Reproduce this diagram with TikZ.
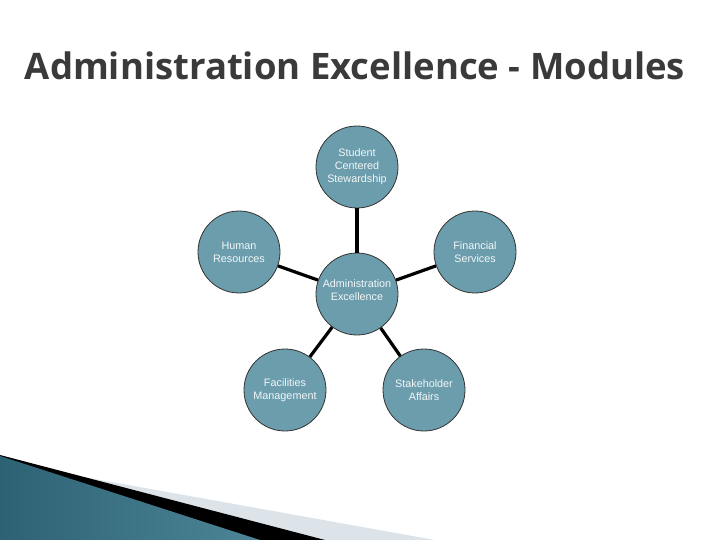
\documentclass[tikz,border=0pt]{standalone}
\usepackage{fontspec}
\usepackage{tikz}
\newfontfamily\titlefont{Open Sans}
\newfontfamily\labelfont{Liberation Sans}
\definecolor{modfill}{HTML}{6B9DAD}
\definecolor{modtext}{HTML}{F4F7F8}
\definecolor{titlegray}{HTML}{3A3A3A}
\definecolor{stripegray}{HTML}{DCE4E9}
\definecolor{tealdark}{HTML}{2D6274}
\definecolor{teallight}{HTML}{7DB1C3}
\definecolor{tealmid}{HTML}{4C8597}

\begin{document}
\begin{tikzpicture}[x=1pt,y=-1pt,
  module/.style={circle,draw=black!80,line width=0.8pt,fill=modfill,minimum size=82pt,inner sep=0pt,
    align=center,text=modtext,font=\labelfont\fontsize{10.8}{13}\selectfont},
  link/.style={line width=3.2pt,black}]
\useasboundingbox (0,0) rectangle (720,540);

% corner stripes
\fill[stripegray] (0,462) -- (435,540) -- (0,540) -- cycle;
\fill[black] (0,455) -- (325,540) -- (0,540) -- cycle;
\shade[left color=tealdark,middle color=teallight,right color=tealmid] (0,456) -- (260,540) -- (0,540) -- cycle;

\node[anchor=base,text=titlegray,font=\titlefont\bfseries\fontsize{36.5}{40}\selectfont] (title) at (355,80) {Administration Excellence - Modules};

\node[module] (admin) at (357,294) {Administration\\Excellence\\[-5pt]};
\node[module] (student) at (357,167) {Student\\Centered\\Stewardship};
\node[module] (hr) at (239,252) {Human\\Resources};
\node[module] (finance) at (475,252) {Financial\\Services};
\node[module] (facilities) at (285,390) {Facilities\\Management};
\node[module] (stakeholder) at (424,390) {Stakeholder\\Affairs};

\foreach \m in {student,hr,finance,facilities,stakeholder} {
\draw[link] (admin) -- (\m);
}
\end{tikzpicture}
\end{document}
